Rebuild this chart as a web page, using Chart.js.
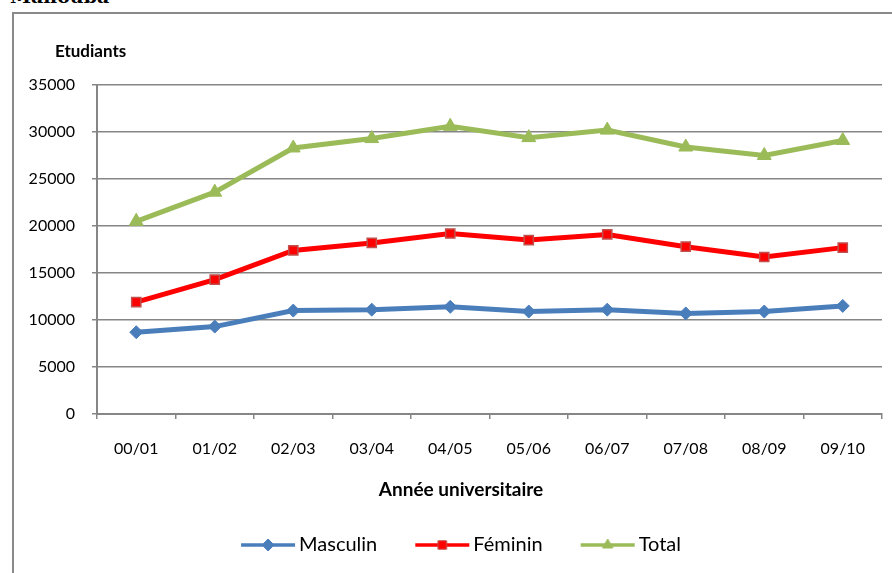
<!DOCTYPE html>
<html><head><meta charset="utf-8">
<script src="https://cdn.jsdelivr.net/npm/chart.js@4"></script>
<style>
html,body{margin:0;padding:0;background:#fff;overflow:hidden;width:892px;height:573px;}
#frame{position:absolute;left:12px;top:12px;width:920px;height:620px;border-left:2px solid #8a8a8a;border-top:2px solid #8a8a8a;}
#wrap{position:absolute;left:0;top:0;width:892px;height:573px;}
#t{position:absolute;left:10px;top:-15px;font:bold 19px "DejaVu Serif";color:#000;line-height:22px;}
</style>
</head><body>
<div id="t">Manouba</div>
<div id="frame"></div>
<div id="wrap"><canvas id="c" width="892" height="573"></canvas></div>
<script>
const categories = ['00/01','01/02','02/03','03/04','04/05','05/06','06/07','07/08','08/09','09/10'];
const masculin = [8700, 9300, 11000, 11100, 11400, 10900, 11100, 10700, 10900, 11500];
const feminin  = [11900, 14300, 17400, 18200, 19200, 18500, 19100, 17800, 16700, 17700];
const total    = [20500, 23600, 28300, 29300, 30600, 29400, 30200, 28400, 27500, 29100];
const yMin = 0, yMax = 35000, yStep = 5000;
const yTitle = 'Etudiants';
const xTitle = 'Année universitaire';
const seriesNames = ['Masculin', 'Féminin', 'Total'];

const FONT = 'Lato';
const LEG_FS = 20;
const BOXW = 54 + 4 - LEG_FS / 2;   // line 54px, 4px gap before text
const IMGW = 62;

function legendImg(color, style, fill, border) {
  const H = 18;
  const cv = document.createElement('canvas');
  cv.width = IMGW; cv.height = H;
  const ctx = cv.getContext('2d');
  const off = IMGW / 2 - BOXW / 2;
  ctx.strokeStyle = color; ctx.lineWidth = 3.5;
  ctx.beginPath(); ctx.moveTo(off, H/2); ctx.lineTo(off + 54, H/2); ctx.stroke();
  ctx.fillStyle = fill; ctx.strokeStyle = border; ctx.lineWidth = 1;
  Chart.helpers.drawPoint(ctx, {pointStyle: style, radius: 6, borderWidth: 1}, off + 27, H/2);
  return cv;
}

const colors = ['#4a7ebb', '#ff0000', '#9bbb59'];
const styles = ['rectRot', 'rect', 'triangle'];
const borders = ['#4a7ebb', '#c0504d', '#9bbb59'];

const yLabelPlugin = {
  id: 'yLabel',
  afterDraw(chart) {
    const ctx = chart.ctx, a = chart.chartArea;
    ctx.save();
    ctx.font = 'bold 17px ' + FONT;
    ctx.fillStyle = '#000';
    ctx.textAlign = 'left';
    ctx.textBaseline = 'alphabetic';
    ctx.fillText(yTitle, a.left - 42, a.top - 28);
    ctx.restore();
  }
};

new Chart(document.getElementById('c'), {
  type: 'line',
  data: {
    labels: categories,
    datasets: [
      {label: seriesNames[0], data: masculin, borderColor: colors[0], backgroundColor: colors[0], pointBackgroundColor: colors[0], pointBorderColor: borders[0], pointStyle: styles[0], pointRadius: 6.5, pointBorderWidth: 1, borderWidth: 5, tension: 0},
      {label: seriesNames[1], data: feminin, borderColor: colors[1], backgroundColor: colors[1], pointBackgroundColor: colors[1], pointBorderColor: borders[1], pointStyle: styles[1], pointRadius: 6.5, pointBorderWidth: 1.5, borderWidth: 5, tension: 0},
      {label: seriesNames[2], data: total, borderColor: colors[2], backgroundColor: colors[2], pointBackgroundColor: colors[2], pointBorderColor: borders[2], pointStyle: styles[2], pointRadius: 8, pointBorderWidth: 1, borderWidth: 5, tension: 0}
    ]
  },
  options: {
    responsive: false,
    animation: false,
    layout: {padding: {left: 0, right: -30, top: 85, bottom: 8}},
    scales: {
      x: {
        offset: true,
        grid: {display: true, drawOnChartArea: false, drawTicks: true, tickLength: 5, offset: true, color: '#868686', lineWidth: 1.5},
        border: {display: true, color: '#868686', width: 2},
        ticks: {color: '#000', font: {family: FONT, size: 16}, padding: 20, maxRotation: 0, autoSkip: false},
        afterFit(s) { s.height = 46; }
      },
      y: {
        min: yMin, max: yMax,
        grid: {color: '#868686', lineWidth: 1.5, tickLength: 5},
        border: {display: true, color: '#868686', width: 2},
        ticks: {stepSize: yStep, color: '#000', font: {family: FONT, size: 16}, padding: 17, callback: v => String(v)},
        afterFit(s) { s.width = 97; }
      },
      yR: {
        type: 'linear', position: 'right', display: true,
        grid: {display: false, drawTicks: false}, border: {display: false},
        ticks: {display: false},
        afterFit(s) { s.width = 40; }
      }
    },
    plugins: {
      title: {display: true, text: xTitle, position: 'bottom', color: '#000', font: {family: FONT, size: 19, weight: 'bold'}, padding: {top: 18.6, bottom: -4.4}},
      legend: {
        position: 'bottom', weight: 3000,
        labels: {
          color: '#000', font: {family: FONT, size: LEG_FS}, usePointStyle: true, pointStyleWidth: BOXW, padding: 38,
          generateLabels(chart) {
            return chart.data.datasets.map((d, i) => ({
              text: d.label, fillStyle: colors[i], strokeStyle: colors[i], lineWidth: 0,
              pointStyle: legendImg(colors[i], styles[i], colors[i], borders[i]), datasetIndex: i, hidden: false
            }));
          }
        }
      },
      tooltip: {enabled: false}
    }
  },
  plugins: [yLabelPlugin]
});
</script>
</body></html>
